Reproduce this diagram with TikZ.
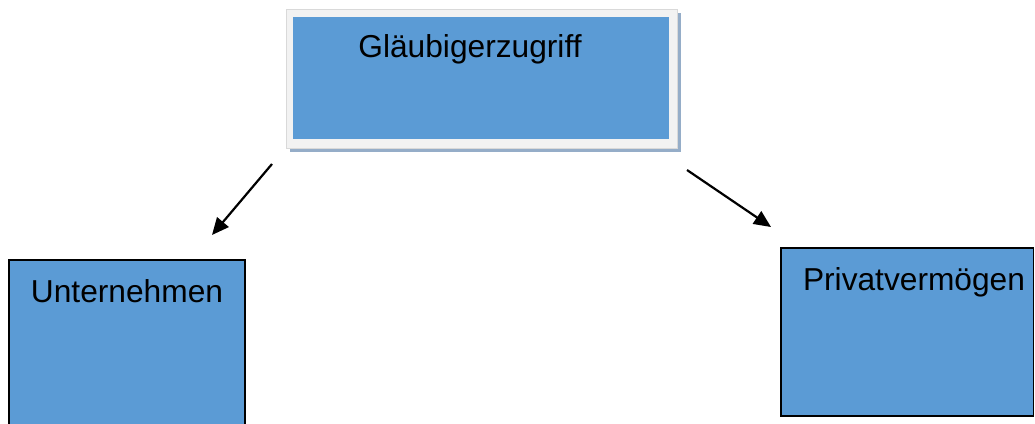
\documentclass[tikz,border=0pt]{standalone}
\usepackage{fontspec}
\setmainfont{Liberation Sans}
\usetikzlibrary{arrows.meta}
\definecolor{boxblue}{HTML}{5B9BD5}
\definecolor{framegray}{HTML}{F2F2F2}
\definecolor{shadowblue}{HTML}{95ADC8}
\tikzset{
  lbl/.style={anchor=base, inner sep=0pt, font=\fontsize{31.7}{38}\selectfont, text=black},
  bluebox/.style={fill=boxblue, draw=black, line width=1.3pt},
  conn/.style={line width=2.2pt, -{Triangle[length=17pt,width=15pt]}}
}
\begin{document}
\begin{tikzpicture}[x=1pt,y=-1pt]
\useasboundingbox (0,0) rectangle (1035,423);
% top box
\fill[shadowblue] (289.5,13) rectangle (680.5,152);
\fill[framegray, draw=black!15, line width=0.5pt] (286,9) rectangle (677,148);
\node[fill=boxblue, inner sep=0pt, minimum width=376pt, minimum height=122pt] (top) at (481,78) {};
\node[lbl] (toptxt) at (470,57) {Gläubigerzugriff};
% left box
\draw[bluebox] (9,260) rectangle (245,430);
\node[lbl] (lefttxt) at (127,302) {Unternehmen};
% right box
\draw[bluebox] (781,248) rectangle (1033.5,416);
\node[lbl] (righttxt) at (914,290) {Privatvermögen};
% arrows
\coordinate (a1s) at (272,164);
\coordinate (a1e) at (212,235);
\coordinate (a2s) at (687,170);
\coordinate (a2e) at (771,227);
\draw[conn] (a1s) -- (a1e);
\draw[conn] (a2s) -- (a2e);
\end{tikzpicture}
\end{document}
